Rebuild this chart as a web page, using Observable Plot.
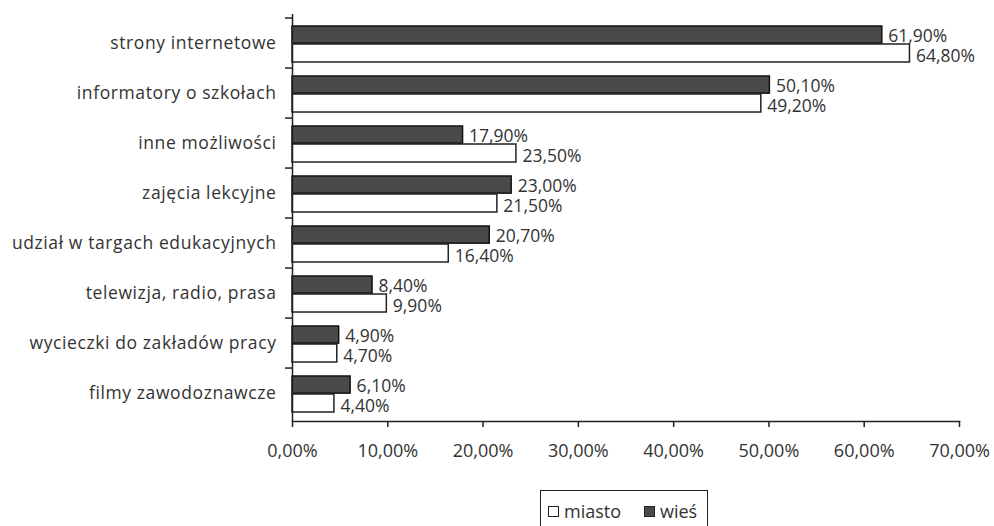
<!DOCTYPE html>
<html>
<head>
<meta charset="utf-8">
<script src="https://cdn.jsdelivr.net/npm/d3@7"></script>
<script src="https://cdn.jsdelivr.net/npm/@observablehq/plot@0.6"></script>
<style>
  body { margin: 0; background: white; font-family: 'Open Sans', sans-serif; color: #333; }
  g[aria-label="y-axis tick label"] text { letter-spacing: 0.6px; }
  #legend { position: absolute; left: 540px; top: 490px; width: 168px; height: 44px; border: 1.5px solid #222; box-sizing: border-box; font-size: 18px; }
  #legend .item { position: absolute; top: 8px; display: flex; align-items: center; }
  #legend .sw { width: 9px; height: 9px; border: 1.5px solid #222; margin-right: 5px; }
</style>
</head>
<body>
<div id="chart"></div>
<div id="legend">
  <div class="item" style="left:7px"><span class="sw" style="background:white"></span><span>miasto</span></div>
  <div class="item" style="left:103px"><span class="sw" style="background:#4a4a4a"></span><span>wieś</span></div>
</div>
<script>
const categories = [
  "strony internetowe",
  "informatory o szkołach",
  "inne możliwości",
  "zajęcia lekcyjne",
  "udział w targach edukacyjnych",
  "telewizja, radio, prasa",
  "wycieczki do zakładów pracy",
  "filmy zawodoznawcze"
];
const wies   = [61.9, 50.1, 17.9, 23.0, 20.7, 8.4, 4.9, 6.1];
const miasto = [64.8, 49.2, 23.5, 21.5, 16.4, 9.9, 4.7, 4.4];
const xTicks = [0, 10, 20, 30, 40, 50, 60, 70];

const fmt = v => v.toFixed(2).replace(".", ",") + "%";

const W = 994, H = 470, mt = 14, mb = 49, ml = 292, mr = 35;
const band = (H - mt - mb) / categories.length;

const wiesRows = categories.map((c, i) => ({cat: c, v: wies[i]}));
const miastoRows = categories.map((c, i) => ({cat: c, v: miasto[i]}));

const chart = Plot.plot({
  width: W, height: H,
  marginTop: mt, marginBottom: mb, marginLeft: ml, marginRight: mr,
  style: {fontFamily: "'Open Sans', sans-serif", fontSize: "17px", color: "#333", background: "white"},
  x: {domain: [0, 70]},
  y: {domain: categories, padding: 0},
  marks: [
    Plot.barX(wiesRows, {x: "v", y: "cat", insetTop: 8, insetBottom: band - 26, fill: "#4a4a4a", stroke: "#111", strokeWidth: 1.5}),
    Plot.barX(miastoRows, {x: "v", y: "cat", insetTop: 26, insetBottom: 6, fill: "white", stroke: "#222", strokeWidth: 1.5}),
    Plot.text(wiesRows, {x: "v", y: "cat", text: d => fmt(d.v), textAnchor: "start", dx: 6, dy: -7, fontSize: 17.5, fill: "#333"}),
    Plot.text(miastoRows, {x: "v", y: "cat", text: d => fmt(d.v), textAnchor: "start", dx: 6, dy: 12.5, fontSize: 17.5, fill: "#333"}),
    Plot.axisY({tickSize: 0, tickPadding: 16, label: null, fontSize: 17.5}),
    Plot.axisY({tickSize: 7, tickFormat: () => "", label: null, dy: -band / 2, stroke: "#222", strokeWidth: 1.5}),
    Plot.ruleX([0], {stroke: "#222", strokeWidth: 1.5}),
    Plot.frame({anchor: "bottom", stroke: "#222", strokeWidth: 1.5}),
    Plot.axisX({ticks: xTicks, tickFormat: fmt, tickSize: 6, tickPadding: 17, label: null, fontSize: 18, stroke: "#222", strokeWidth: 1.5})
  ]
});
document.getElementById("chart").appendChild(chart);
</script>
</body>
</html>
